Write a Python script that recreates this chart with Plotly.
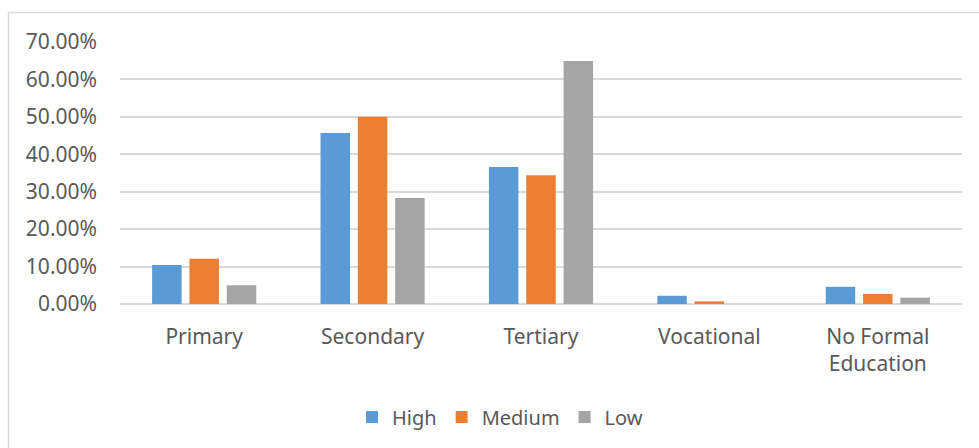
import plotly.graph_objects as go

# Education level shares by group
categories = ["Primary", "Secondary", "Tertiary", "Vocational", "No Formal<br>Education"]
high = [0.104, 0.457, 0.366, 0.022, 0.046]
medium = [0.121, 0.500, 0.344, 0.007, 0.027]
low = [0.050, 0.283, 0.649, 0.000, 0.017]
y_ticks = [0, 0.1, 0.2, 0.3, 0.4, 0.5, 0.6, 0.7]

series = [("High", high, "#5B9BD5"), ("Medium", medium, "#ED7D31"), ("Low", low, "#A5A5A5")]

FONT = "Noto Sans"
TXT = "#595959"
W, H = 979, 448
ML, MR, MT, MB = 120, 17, 42, 144
PW, PH = W - ML - MR, H - MT - MB

fig = go.Figure()
for name, vals, color in series:
    fig.add_trace(go.Bar(
        x=categories, y=vals, name=name,
        marker=dict(color=color, line=dict(width=0)),
    ))

def px_to_paper_x(px):
    return (px - ML) / PW

def px_to_paper_y(py):
    return (H - MB - py) / PH

fig.update_layout(
    width=W, height=H,
    margin=dict(l=ML, r=MR, t=MT, b=MB),
    paper_bgcolor="white", plot_bgcolor="white",
    barmode="group", bargap=0.335, bargroupgap=0.21,
    font=dict(family=FONT, size=21, color=TXT),
    showlegend=True,
    legend=dict(
        orientation="h", xanchor="center", yanchor="middle",
        x=px_to_paper_x(500), y=px_to_paper_y(417),
        font=dict(family=FONT, size=20, color=TXT),
        itemwidth=30, traceorder="normal",
    ),
    xaxis=dict(
        showgrid=False, zeroline=False, showline=False,
        ticks="", tickfont=dict(family=FONT, size=21, color=TXT),
        ticklabelstandoff=18,
    ),
    yaxis=dict(
        range=[0, 0.7], tickvals=y_ticks, tickformat=".2%",
        showgrid=True, gridcolor="#D9D9D9", gridwidth=1.5,
        zeroline=True, zerolinecolor="#D9D9D9", zerolinewidth=1.5,
        showline=False, ticks="",
        tickfont=dict(family=FONT, size=21, color=TXT),
        ticklabelstandoff=22,
    ),
    shapes=[dict(
        type="rect", xref="paper", yref="paper",
        x0=px_to_paper_x(8.5), x1=px_to_paper_x(985),
        y0=px_to_paper_y(455), y1=px_to_paper_y(12.5),
        line=dict(color="#D9D9D9", width=1.5), fillcolor="rgba(0,0,0,0)",
        layer="below",
    )],
)

fig.write_html("out.html")
